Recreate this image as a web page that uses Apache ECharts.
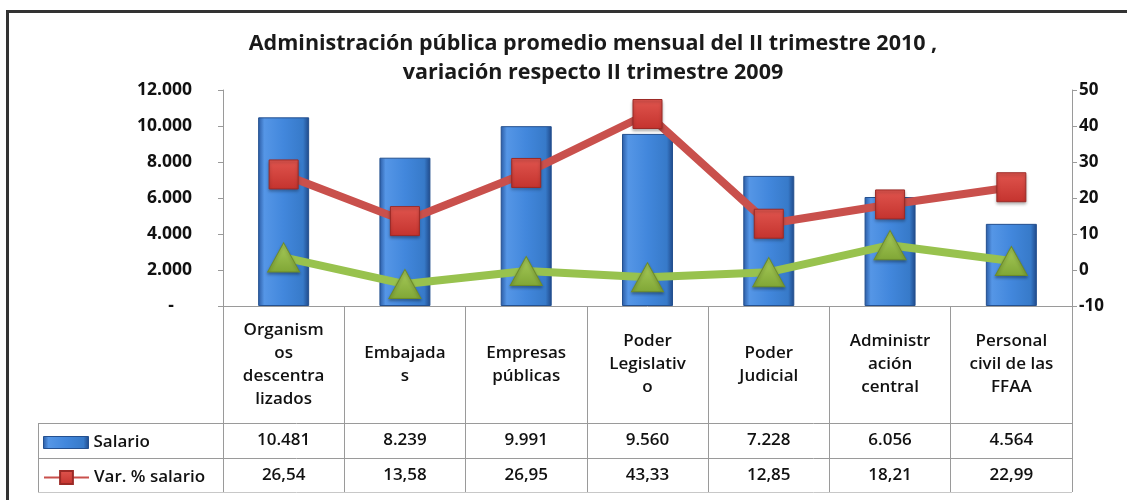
<!DOCTYPE html>
<html>
<head>
<meta charset="utf-8">
<script src="https://cdn.jsdelivr.net/npm/echarts@6/dist/echarts.min.js"></script>
<style>
html,body{margin:0;padding:0;background:#fff;}
#c{width:1127px;height:500px;}
</style>
</head>
<body>
<div id="c"></div>
<script>
// ---- data ----
const titleLines = ['Administración pública promedio mensual del II trimestre 2010 ,', 'variación respecto II trimestre 2009'];
const categories = ['Organism\nos\ndescentra\nlizados', 'Embajada\ns', 'Empresas\npúblicas', 'Poder\nLegislativ\no', 'Poder\nJudicial', 'Administr\nación\ncentral', 'Personal\ncivil de las\nFFAA'];
const salario = [10481, 8239, 9991, 9560, 7228, 6056, 4564];
const varSalario = [26.54, 13.58, 26.95, 43.33, 12.85, 18.21, 22.99];
const varReal = [3.5, -3.9, -0.3, -2.0, -0.6, 6.9, 2.5];
const seriesNames = ['Salario', 'Var. % salario', 'Var. % real'];
const leftAxis = {min: 0, max: 12000, interval: 2000};
const rightAxis = {min: -10, max: 50, interval: 10};

// ---- formatting ----
function fmtThousands(v){ return String(Math.round(v)).replace(/\B(?=(\d{3})+(?!\d))/g, '.'); }
function fmtDec(v){ return v.toFixed(2).replace('.', ','); }

const FONT = "'Open Sans', 'Noto Sans', sans-serif";
const chart = echarts.init(document.getElementById('c'));

const gridL = 223, gridR = 1072, gridT = 90, gridB = 306;
const rowTop = 423, rowMid = 458, rowBot = 492, tableLeft = 38;
const lineColor = '#9a9a9a';

const tableLabel = {fontFamily: FONT, fontSize: 17, fontWeight: 600, color: '#111', verticalAlign: 'middle', margin: 0};

const option = {
  animation: false,
  backgroundColor: '#fff',
  title: {
    text: titleLines.join('\n'),
    left: 588, top: 24, textAlign: 'center',
    textStyle: {fontFamily: FONT, fontSize: 21.5, fontWeight: 'bold', color: '#1a1a1a', lineHeight: 29}
  },
  legend: [
    {data: [seriesNames[0]], icon: 'rect', left: 38, top: rowTop + 6, orient: 'vertical', itemWidth: 45, itemHeight: 12,
     itemStyle: {borderColor: '#24508f', borderWidth: 1},
     textStyle: {fontFamily: FONT, fontSize: 17, fontWeight: 600, color: '#111'}, itemGap: 0},
    {data: [seriesNames[1]], left: 38, top: rowMid + 6, orient: 'vertical', itemWidth: 45, itemHeight: 16,
     textStyle: {fontFamily: FONT, fontSize: 17, fontWeight: 600, color: '#111'}, itemGap: 0}
  ],
  grid: {left: gridL, right: 1127 - gridR, top: gridT, bottom: 500 - gridB, containLabel: false},
  xAxis: [
    {type: 'category', data: categories, position: 'bottom',
     axisLine: {show: true, lineStyle: {color: lineColor, width: 1}},
     axisTick: {show: true, length: rowBot - gridB, interval: 0, lineStyle: {color: lineColor}},
     axisLabel: Object.assign({}, tableLabel, {interval: 0, margin: (rowTop - gridB) / 2, lineHeight: 23, align: 'center'})},
    {type: 'category', data: salario.map(fmtThousands), position: 'bottom', offset: (rowTop + rowMid) / 2 - gridB,
     axisLine: {show: false}, axisTick: {show: false},
     axisLabel: Object.assign({}, tableLabel, {interval: 0})},
    {type: 'category', data: varSalario.map(fmtDec), position: 'bottom', offset: (rowMid + rowBot) / 2 - gridB,
     axisLine: {show: false}, axisTick: {show: false},
     axisLabel: Object.assign({}, tableLabel, {interval: 0})}
  ],
  yAxis: [
    {type: 'value', min: leftAxis.min, max: leftAxis.max, interval: leftAxis.interval, position: 'left',
     splitLine: {show: false},
     axisLine: {show: true, lineStyle: {color: lineColor}},
     axisTick: {show: true, length: 5, lineStyle: {color: lineColor}},
     axisLabel: {margin: 31, fontFamily: FONT, fontSize: 17.5, fontWeight: 'bold', color: '#111',
       formatter: v => v === 0 ? '-    ' : fmtThousands(v)}},
    {type: 'value', min: rightAxis.min, max: rightAxis.max, interval: rightAxis.interval, position: 'right',
     splitLine: {show: false},
     axisLine: {show: true, lineStyle: {color: lineColor}},
     axisTick: {show: true, length: 5, lineStyle: {color: lineColor}},
     axisLabel: {margin: 7, fontFamily: FONT, fontSize: 17, fontWeight: 'bold', color: '#111'}}
  ],
  series: [
    {name: seriesNames[0], type: 'bar', data: salario, barWidth: 51, yAxisIndex: 0, xAxisIndex: 0, z: 2,
     itemStyle: {
       color: new echarts.graphic.LinearGradient(0, 0, 1, 0, [
         {offset: 0, color: '#2a5aa3'}, {offset: 0.12, color: '#5596e6'},
         {offset: 0.5, color: '#4287dc'}, {offset: 0.88, color: '#377ac9'}, {offset: 1, color: '#1f4888'}]),
       borderColor: '#24508f', borderWidth: 1
     }},
    {name: seriesNames[1], type: 'line', data: varSalario, yAxisIndex: 1, z: 4,
     symbol: 'rect', symbolSize: 29,
     lineStyle: {color: '#c9504c', width: 8},
     itemStyle: {color: new echarts.graphic.LinearGradient(0, 0, 0, 1, [
        {offset: 0, color: '#e0554e'}, {offset: 1, color: '#c4332e'}]),
       borderColor: '#9c2a26', borderWidth: 1, shadowColor: 'rgba(0,0,0,0.3)', shadowBlur: 3, shadowOffsetY: 2}},
    {name: seriesNames[2], type: 'line', data: varReal, yAxisIndex: 1, z: 3,
     symbol: 'triangle', symbolSize: [32, 29],
     lineStyle: {color: '#98c24e', width: 8},
     itemStyle: {color: new echarts.graphic.LinearGradient(0, 0, 0, 1, [
        {offset: 0, color: '#a8cc5a'}, {offset: 1, color: '#80a636'}]),
       borderColor: '#6d8c2a', borderWidth: 1, shadowColor: 'rgba(0,0,0,0.3)', shadowBlur: 3, shadowOffsetY: 2}}
  ],
  graphic: [
    {type: 'polyline', shape: {points: [[7.5, 500], [7.5, 11.5], [1127, 11.5]]}, style: {stroke: '#333', lineWidth: 3, fill: null}, silent: true},
    {type: 'line', shape: {x1: tableLeft, y1: rowTop + 0.5, x2: gridR, y2: rowTop + 0.5}, style: {stroke: lineColor, lineWidth: 1}, silent: true},
    {type: 'line', shape: {x1: tableLeft, y1: rowMid + 0.5, x2: gridR, y2: rowMid + 0.5}, style: {stroke: lineColor, lineWidth: 1}, silent: true},
    {type: 'line', shape: {x1: tableLeft, y1: rowBot + 0.5, x2: gridR, y2: rowBot + 0.5}, style: {stroke: '#c8c8c8', lineWidth: 1}, silent: true},
    {type: 'line', shape: {x1: tableLeft + 0.5, y1: rowTop, x2: tableLeft + 0.5, y2: rowBot}, style: {stroke: lineColor, lineWidth: 1}, silent: true}
  ]
};
chart.setOption(option);
</script>
</body>
</html>
